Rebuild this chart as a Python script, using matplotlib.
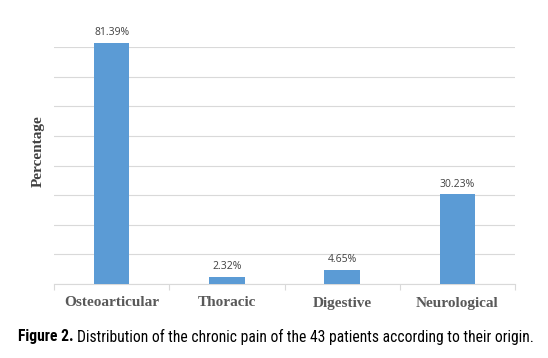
import matplotlib
matplotlib.use("Agg")
import matplotlib.pyplot as plt

categories = ["Osteoarticular", "Thoracic", "Digestive", "Neurological"]
values = [81.39, 2.32, 4.65, 30.23]
labels = ["81.39%", "2.32%", "4.65%", "30.23%"]

W, H = 548, 358
fig = plt.figure(figsize=(W/100, H/100), dpi=100)
ax = fig.add_axes([54/W, (H-284)/H, (515-54)/W, (284-47)/H])

x = list(range(len(categories)))
ax.bar(x, values, width=0.31, color="#5B9BD5", clip_on=False, zorder=3)
ax.set_xlim(-0.5, 3.5)
ax.set_ylim(0, 80)
ax.set_yticks(range(0, 81, 10))
ax.yaxis.grid(True, color="#D9D9D9", linewidth=0.8)
ax.tick_params(axis="y", left=False, labelleft=False)
for s in ["top", "right", "left"]:
    ax.spines[s].set_visible(False)
ax.spines["bottom"].set_color("#D9D9D9")
ax.spines["bottom"].set_linewidth(0.8)
ax.set_xticks([i - 0.5 for i in range(5)])
ax.set_xticklabels([])
ax.tick_params(axis="x", length=4, color="#D9D9D9", width=0.8, direction="out")
ax.set_xticks(x, minor=True)
ax.set_xticklabels(categories, minor=True, family="Liberation Serif", fontweight="bold",
                   fontsize=11, color="#595959")
ax.tick_params(axis="x", which="minor", length=0, pad=9)

for xi, v, lab in zip(x, values, labels):
    ax.annotate(lab, (xi, v), xytext=(0, 3.5), textcoords="offset points", ha="center",
                va="bottom", fontsize=7.5, color="#404040", family="Open Sans",
                annotation_clip=False)

ax.set_ylabel("Percentage", family="Liberation Serif", fontweight="bold", fontsize=11,
              color="#404040")
ax.yaxis.set_label_coords(-0.0195, 0.561)

cap_family = "Roboto Condensed"
cy = 1 - 337/H
fs = 12
t1 = fig.text(18/W, cy, "Figure 2.", fontweight="bold", fontsize=fs,
              family=cap_family, va="center", ha="left", color="#000000")
t2 = fig.text(0, cy, "Distribution of the chronic pain of the 43 patients according to their origin.",
              fontsize=fs, family=cap_family, va="center", ha="left", color="#000000")
fig.canvas.draw()
r = fig.canvas.get_renderer()
for _ in range(4):
    b1 = t1.get_window_extent(r)
    t2.set_x((b1.x1 + fs*0.3)/W)
    b2 = t2.get_window_extent(r)
    total = b2.x1 - b1.x0
    fs = fs * (534 - 18) / total
    t1.set_fontsize(fs)
    t2.set_fontsize(fs)
    fig.canvas.draw()
b1 = t1.get_window_extent(r)
t2.set_x((b1.x1 + fs*0.3)/W)

fig.savefig("out.png", dpi=100)
